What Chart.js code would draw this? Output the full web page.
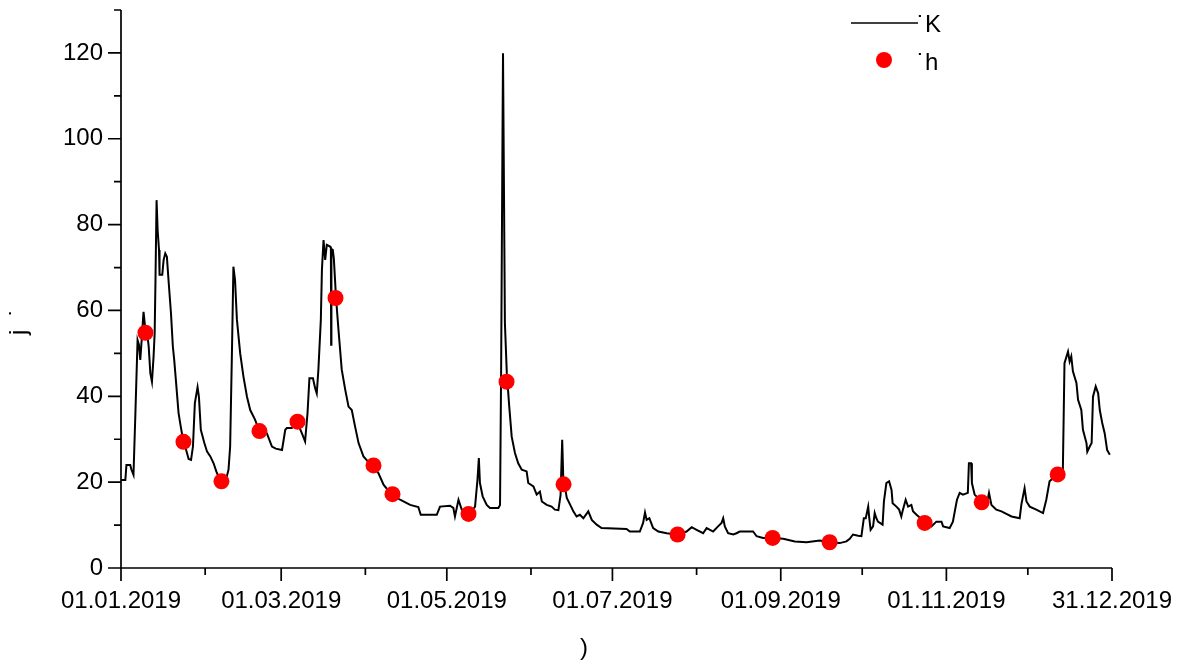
<!DOCTYPE html>
<html>
<head>
<meta charset="utf-8">
<script src="https://cdn.jsdelivr.net/npm/chart.js@4.4.1/dist/chart.umd.min.js"></script>
<style>
html,body{margin:0;padding:0;background:#fff;}
#wrap{width:1190px;height:666px;position:relative;}
canvas{display:block;}
</style>
</head>
<body>
<div id="wrap"><canvas id="c" width="1190" height="666"></canvas></div>
<script>
// ---- data (day of year 2019, value) ----
const flowDays = [0,1.6,2.0,3.4,3.8,4.6,5.3,6.1,6.6,7.1,7.7,8.3,8.9,9.6,10.2,10.8,11.4,12.0,12.4,12.7,13.1,13.5,14.0,14.2,15.2,15.7,16.3,16.9,17.5,18.4,19.1,19.6,20.4,21.2,22.1,22.9,24.0,24.9,25.8,26.5,27.2,28.2,28.7,29.4,30.7,31.7,32.9,34.1,35.1,35.9,36.9,38.8,39.6,40.2,40.9,41.4,42.0,42.7,43.9,45.1,46.4,47.6,49.4,50.6,51.5,53.7,55.6,57.0,59.3,60.5,61.1,62.9,64.9,66.6,67.8,68.7,69.4,70.7,71.5,72.1,72.7,73.6,74.0,74.6,75.2,75.8,77.0,77.3,77.4,77.5,78.0,78.4,79.2,80.1,81.3,82.6,83.8,85.0,86.2,87.5,89.3,91.0,92.9,94.8,96.7,98.5,100.0,102.8,106.5,109.5,110.4,116.3,117.5,121.2,122.4,123.0,124.3,125.5,126.5,127.9,129.5,130.4,131.3,131.8,132.2,133.2,134.7,135.9,139.0,139.6,140.0,140.5,140.7,141.4,142.1,143.0,143.9,145.1,146.3,147.6,149.4,150.0,151.9,153.1,154.3,155.0,156.8,158.6,159.8,161.1,161.9,162.5,162.9,164.2,166.0,166.6,167.8,169.0,170.3,172.1,173.4,175.2,177.0,186.2,187.4,191.1,192.3,193.0,193.6,194.6,196.0,197.9,201.0,204.9,208.3,210.2,212.0,214.4,215.7,218.1,219.9,221.2,221.8,222.4,223.6,225.5,226.7,227.9,232.8,234.1,236.5,240.0,243.9,248.2,252.5,257.4,260.8,264.7,267.2,268.4,269.6,271.5,272.7,273.6,274.3,275.2,275.6,276.1,277.0,277.6,278.2,278.8,280.5,281.0,281.9,282.9,283.8,284.2,285.6,286.6,287.4,288.0,289.0,289.9,291.1,291.7,293.0,296.0,298.5,300.3,302.2,302.8,305.2,306.4,307.1,307.9,308.9,310.1,311.9,312.3,313.1,313.4,314.4,317.0,319.0,319.7,320.6,322.4,324.3,326.1,328.0,331.0,331.6,332.8,333.5,334.7,337.1,339.6,340.8,342.0,344.9,346.9,347.5,348.8,349.4,350.0,350.6,351.9,352.5,353.7,354.3,355.6,355.9,356.8,357.5,358.0,359.0,359.9,360.5,361.4,362.3,363.2,364.2];
const flowValues = [20.5,20.5,24.0,24.0,23.0,21.7,36.0,53.1,52.0,48.5,53.9,59.7,56.0,55.0,51.6,45.4,43.4,49.3,54.7,67.1,85.7,78.7,74.1,68.3,68.3,71.8,73.3,72.5,67.1,59.4,51.6,48.5,42.3,36.1,32.6,29.8,27.5,25.4,25.2,28.3,38.4,42.1,39.9,32.2,29.1,27.1,26.0,24.4,22.5,21.3,20.4,20.9,22.9,28.3,51.6,70.2,67.1,57.8,50.0,44.6,39.9,36.8,34.5,32.5,32.0,31.4,28.3,27.8,27.5,32.2,32.6,32.6,34.0,31.4,29.5,36.1,44.2,44.2,41.9,40.7,46.2,57.8,69.4,76.4,71.8,75.3,74.9,74.5,52.0,74.3,74.1,72.0,62.9,55.5,46.2,41.5,37.6,36.8,33.0,29.1,26.0,24.8,23.6,22.1,19.4,18.0,17.0,15.9,14.7,14.2,12.4,12.4,14.3,14.5,14.0,12.0,15.9,13.6,13.2,12.8,13.5,14.3,20.6,25.6,19.8,16.7,14.7,14.0,14.0,14.7,45.4,99.7,119.9,57.0,45.4,37.6,30.6,26.8,24.4,22.9,22.5,19.8,19.0,17.1,17.8,15.5,14.7,14.3,13.6,13.5,17.0,29.9,21.0,16.3,14.0,13.2,12.0,12.4,11.6,13.2,11.2,10.1,9.3,9.1,8.5,8.5,10.5,12.9,11.2,11.6,9.3,8.5,8.1,7.8,8.5,9.5,8.9,8.1,9.3,8.5,9.7,10.5,11.6,9.7,8.1,7.8,8.1,8.5,8.5,7.4,7.0,7.0,6.8,6.2,6.0,6.4,6.0,5.8,6.2,6.8,7.8,7.5,7.4,11.6,11.6,14.3,11.6,8.9,9.7,12.8,11.6,10.8,10.1,15.5,19.8,20.2,18.2,15.1,14.3,13.6,12.0,13.6,15.9,14.3,14.7,13.2,12.4,10.8,9.7,10.8,10.8,9.7,9.3,10.8,13.2,15.9,17.5,17.1,17.5,24.4,24.4,19.8,17.1,15.5,15.2,17.5,14.7,13.6,13.2,12.6,12.0,11.6,14.7,18.6,15.5,14.3,13.6,12.8,15.9,20.2,21.8,22.9,47.7,50.4,48.1,49.3,45.8,43.1,39.2,36.8,32.2,29.1,27.1,28.3,29.1,39.9,42.3,40.7,36.8,33.8,31.4,27.5,26.4];
const sampleDays = [9,23,37,51,65,79,93,100,128,142,163,205,240,261,296,317,345];
const sampleValues = [54.8,29.4,20.2,31.9,34.1,62.9,23.9,17.2,12.6,43.4,19.5,7.8,7.0,6.0,10.5,15.3,21.8];
const xMajorDays = [0,59,120,181,243,304,365];
const xTickLabels = ['01.01.2019','01.03.2019','01.05.2019','01.07.2019','01.09.2019','01.11.2019','31.12.2019'];
const xMinorDays = [31,90,151,212,273,334];
const yMajorValues = [0,20,40,60,80,100,120];
const yMinorValues = [10,30,50,70,90,110,130];
const seriesNames = ['\u02D9K','\u02D9h'];
const yTitleText = 'j  \u02D9';
const xTitleText = ')';

const FONT = '"Liberation Sans", Arial, Helvetica, sans-serif';
Chart.defaults.font.family = FONT;
Chart.defaults.font.size = 24;
Chart.defaults.color = '#000';

const decor = {
  id: 'decor',
  afterDraw(chart) {
    const {ctx, scales: {x, y}} = chart;
    ctx.save();
    ctx.strokeStyle = '#000';
    ctx.lineWidth = 1.7;
    const x0 = x.getPixelForValue(0), x1 = x.getPixelForValue(365);
    const y0 = y.getPixelForValue(0), y1 = y.getPixelForValue(130);
    ctx.beginPath();
    ctx.moveTo(x0, y1); ctx.lineTo(x0, y0); ctx.lineTo(x1, y0);
    yMajorValues.forEach(v => { const p = y.getPixelForValue(v); ctx.moveTo(x0, p); ctx.lineTo(x0 - 13, p); });
    yMinorValues.forEach(v => { const p = y.getPixelForValue(v); ctx.moveTo(x0, p); ctx.lineTo(x0 - 7, p); });
    xMajorDays.forEach(v => { const p = x.getPixelForValue(v); ctx.moveTo(p, y0); ctx.lineTo(p, y0 + 13); });
    xMinorDays.forEach(v => { const p = x.getPixelForValue(v); ctx.moveTo(p, y0); ctx.lineTo(p, y0 + 7); });
    ctx.stroke();

    ctx.fillStyle = '#000';
    ctx.font = '24px ' + FONT;
    ctx.textAlign = 'center';
    ctx.textBaseline = 'alphabetic';
    ctx.fillText(xTitleText, 584, 655);
    ctx.save();
    ctx.translate(25.5, 335);
    ctx.rotate(-Math.PI / 2);
    ctx.textAlign = 'left';
    ctx.fillText(yTitleText, 0, 0);
    ctx.restore();

    const ds = chart.data.datasets;
    ctx.lineWidth = 1.5;
    ctx.beginPath();
    ctx.moveTo(851, 23); ctx.lineTo(918, 23);
    ctx.stroke();
    ctx.textAlign = 'left';
    ctx.fillText(ds[0].label, 917, 32);
    ctx.fillStyle = 'rgb(255,0,0)';
    ctx.beginPath();
    ctx.arc(884, 60, 8, 0, Math.PI * 2);
    ctx.fill();
    ctx.fillStyle = '#000';
    ctx.fillText(ds[1].label, 917, 70);
    ctx.restore();
  }
};

new Chart(document.getElementById('c'), {
  type: 'line',
  data: {
    datasets: [
      {
        label: seriesNames[0],
        data: flowDays.map((d, i) => ({x: d, y: flowValues[i]})),
        borderColor: '#000',
        borderWidth: 2,
        pointRadius: 0,
        tension: 0,
        fill: false,
        order: 2
      },
      {
        label: seriesNames[1],
        data: sampleDays.map((d, i) => ({x: d, y: sampleValues[i]})),
        showLine: false,
        pointRadius: 8,
        pointBackgroundColor: 'rgb(255,0,0)',
        pointBorderWidth: 0,
        borderColor: 'rgb(255,0,0)',
        backgroundColor: 'rgb(255,0,0)',
        order: 1
      }
    ]
  },
  options: {
    responsive: false,
    animation: false,
    devicePixelRatio: 1,
    layout: {padding: {left: 0, right: 78, top: 10, bottom: 0}},
    plugins: {legend: {display: false}, tooltip: {enabled: false}},
    scales: {
      x: {
        type: 'linear',
        min: 0, max: 365,
        grid: {display: true, drawOnChartArea: false, drawTicks: true, tickLength: 13, color: 'rgba(0,0,0,0)'},
        border: {display: false},
        ticks: {autoSkip: false, maxRotation: 0, minRotation: 0, padding: 6, color: '#000',
                font: {size: 24}, callback: (v, i) => xTickLabels[i]},
        afterBuildTicks: s => { s.ticks = xMajorDays.map(v => ({value: v})); },
        afterFit: s => { s.height = 98; s.paddingLeft = 0; s.paddingRight = 0; s.paddingTop = 0; s.paddingBottom = 0; }
      },
      y: {
        type: 'linear',
        min: 0, max: 130,
        grid: {display: true, drawOnChartArea: false, drawTicks: true, tickLength: 13, color: 'rgba(0,0,0,0)'},
        border: {display: false},
        ticks: {padding: 5, color: '#000', font: {size: 24}},
        afterBuildTicks: s => { s.ticks = yMajorValues.map(v => ({value: v})); },
        afterFit: s => { s.width = 121; s.paddingLeft = 0; s.paddingRight = 0; s.paddingTop = 0; s.paddingBottom = 0; }
      }
    }
  },
  plugins: [decor]
});
</script>
</body>
</html>
